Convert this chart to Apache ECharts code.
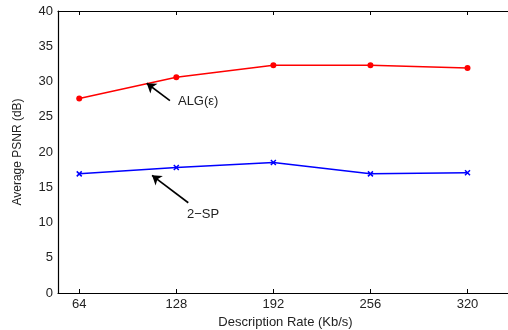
<!DOCTYPE html>
<html>
<head>
<meta charset="utf-8">
<script src="https://cdn.jsdelivr.net/npm/echarts@6/dist/echarts.min.js"></script>
<style>
  html, body { margin: 0; padding: 0; background: #fff; }
  #chart { width: 508px; height: 330px; }
</style>
</head>
<body>
<div id="chart"></div>
<script>
const rates = [64, 128, 192, 256, 320]
const algValues = [27.6, 30.6, 32.3, 32.3, 31.9]
const spValues = [16.9, 17.8, 18.5, 16.9, 17.05]
const yTicks = [0, 5, 10, 15, 20, 25, 30, 35, 40]

const font = 'Liberation Sans, Arial, sans-serif'
const myChart = echarts.init(document.getElementById('chart'))

const pairs = (vals) => rates.map((r, i) => [r, vals[i]])

const option = {
  animation: false,
  grid: { left: 58, top: 11, width: 455, height: 282, outerBoundsMode: 'none', containLabel: false },
  xAxis: [
    {
      type: 'value',
      min: 50,
      max: 350,
      name: 'Description Rate (Kb/s)',
      nameLocation: 'middle',
      nameGap: 22,
      nameTextStyle: { color: '#222', fontFamily: font, fontSize: 13 },
      axisLine: { show: true, lineStyle: { color: '#000', width: 1.2 } },
      axisTick: { show: true, inside: true, length: 4, customValues: rates, lineStyle: { color: '#000' } },
      axisLabel: { customValues: rates, color: '#222', fontFamily: font, fontSize: 13, margin: 5 },
      splitLine: { show: false }
    },
    {
      type: 'value',
      position: 'top',
      min: 50,
      max: 350,
      axisLine: { show: true, lineStyle: { color: '#000', width: 1.2 } },
      axisTick: { show: true, inside: true, length: 4, customValues: rates, lineStyle: { color: '#000' } },
      axisLabel: { show: false },
      splitLine: { show: false }
    }
  ],
  yAxis: {
    type: 'value',
    min: 0,
    max: 40,
    interval: 5,
    name: 'Average PSNR (dB)',
    nameLocation: 'middle',
    nameGap: 34,
    nameTextStyle: { color: '#222', fontFamily: font, fontSize: 12 },
    axisLine: { show: true, lineStyle: { color: '#000', width: 1.2 } },
    axisTick: { show: false },
    axisLabel: { color: '#222', fontFamily: font, fontSize: 13, margin: 5 },
    splitLine: { show: false }
  },
  series: [
    {
      name: 'ALG(ε)',
      type: 'line',
      data: pairs(algValues),
      symbol: 'circle',
      symbolSize: 6,
      lineStyle: { color: '#ff0000', width: 1.5 },
      itemStyle: { color: '#ff0000' },
      markLine: {
        silent: true,
        symbol: ['none', 'arrow'],
        symbolSize: 9,
        lineStyle: { color: '#000', width: 1.6, type: 'solid' },
        label: { show: false },
        data: [[{ coord: [123.8, 27.3] }, { coord: [108.5, 29.75] }]]
      }
    },
    {
      name: '2-SP',
      type: 'line',
      data: pairs(spValues),
      symbol: 'path://M0,0L10,10M10,0L0,10',
      symbolSize: 5,
      lineStyle: { color: '#0000ff', width: 1.5 },
      itemStyle: { color: '#0000ff', borderColor: '#0000ff', borderWidth: 1.5 },
      markLine: {
        silent: true,
        symbol: ['none', 'arrow'],
        symbolSize: 9,
        lineStyle: { color: '#000', width: 1.6, type: 'solid' },
        label: { show: false },
        data: [[{ coord: [135.9, 12.8] }, { coord: [112, 16.7] }]]
      }
    }
  ]
}
myChart.setOption(option)

// text labels next to the arrows, placed in data space
const labels = [
  { text: 'ALG(ε)', at: [129.1, 27.2] },
  { text: '2−SP', at: [135.0, 11.1] }
]
myChart.setOption({
  graphic: labels.map((l) => {
    const p = myChart.convertToPixel({ gridIndex: 0 }, l.at)
    return {
      type: 'text',
      x: p[0],
      y: p[1],
      style: { text: l.text, fill: '#222', font: '13px ' + font, textVerticalAlign: 'middle' }
    }
  })
})
</script>
</body>
</html>
